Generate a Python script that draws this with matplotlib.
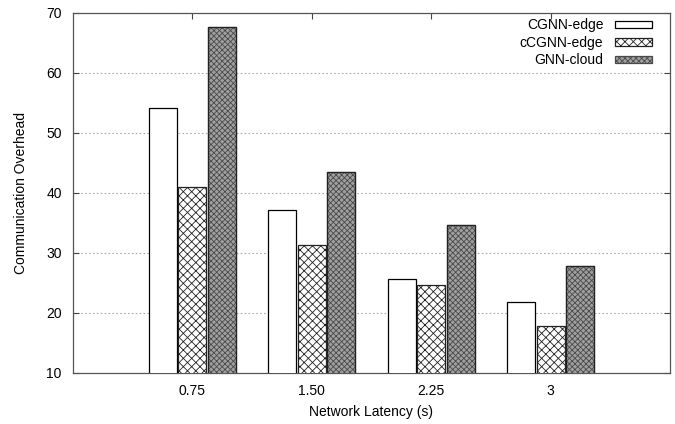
import numpy as np
import matplotlib.pyplot as plt

plt.rcParams['font.family'] = ['Liberation Sans', 'DejaVu Sans']
plt.rcParams['hatch.linewidth'] = 0.6

latency = ['0.75', '1.50', '2.25', '3']
cgnn_edge = [54.2, 37.2, 25.6, 21.9]
ccgnn_edge = [41.0, 31.3, 24.6, 17.9]
gnn_cloud = [67.7, 43.4, 34.7, 27.9]

fig = plt.figure(figsize=(6.75, 4.24), dpi=100)
ax = fig.add_axes([0.108, 0.1203, 0.8846, 0.8497])

x = np.arange(1, len(latency) + 1)
w = 0.235
step = 0.247
ax.bar(x - step, cgnn_edge, w, color='white', edgecolor='black', linewidth=0.9,
       label='CGNN-edge', zorder=3)
ax.bar(x, ccgnn_edge, w, color='white', edgecolor='#222222', hatch='xxxx', linewidth=0.9,
       label='cCGNN-edge', zorder=3)
ax.bar(x + step, gnn_cloud, w, color='#a0a0a0', edgecolor='#4a4a4a', hatch='xxxxxx', linewidth=0.9,
       label='GNN-cloud', zorder=3)
# dark outline over the dotted bars
ax.bar(x + step, gnn_cloud, w, fill=False, edgecolor='#222222', linewidth=0.9, zorder=4)

ax.set_xlim(0, 5)
ax.set_ylim(10, 70)
ax.set_xticks(x)
ax.set_xticklabels(latency)
ax.set_yticks(range(10, 71, 10))
ax.tick_params(direction='in', top=True, right=True, labelsize=10, length=4, color='#444444', pad=8)
for s in ax.spines.values():
    s.set_color('#555555')
    s.set_linewidth(0.9)
ax.yaxis.grid(True, linestyle=(0, (1.5, 2)), color='#aaaaaa', linewidth=0.8, zorder=0)

ax.set_xlabel('Network Latency (s)', fontsize=10, labelpad=5)
ax.set_ylabel('Communication Overhead', fontsize=10, labelpad=13)

ax.legend(loc='upper right', frameon=False, markerfirst=False, fontsize=10,
          handlelength=2.65, handleheight=0.45, labelspacing=0.25, handletextpad=0.85,
          borderaxespad=0, bbox_to_anchor=(0.979, 1.0))

fig.savefig('out.png', dpi=100)
